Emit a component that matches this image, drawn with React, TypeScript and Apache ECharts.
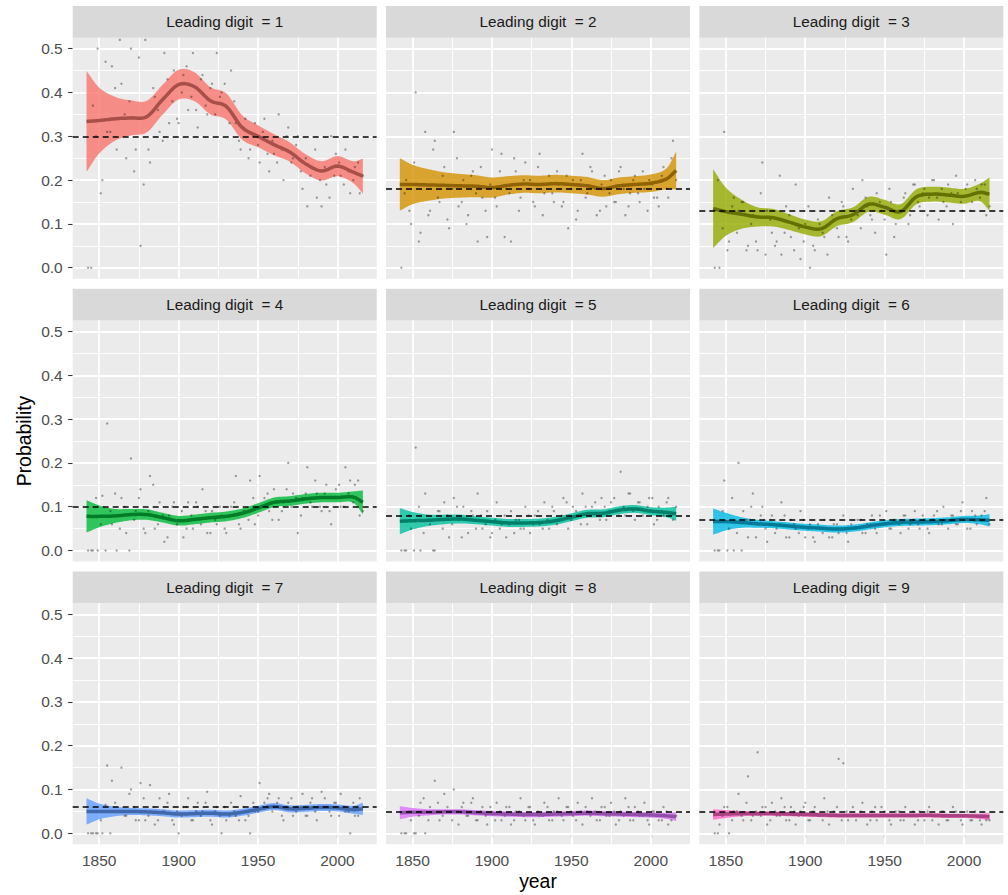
import React, { useEffect, useRef } from "react";
import * as echarts from "echarts";

const digits = [1, 2, 3, 4, 5, 6, 7, 8, 9];
const colors = ["#F8766D", "#D39200", "#93AA00", "#00BA38", "#00C19F", "#00B9E3", "#619CFF", "#DB72FB", "#FF61C3"];
const lineColors = ["#A84F49", "#8E6300", "#627100", "#007D26", "#008069", "#007A96", "#4068AA", "#9150A8", "#AA4183"];
const benford = [0.301, 0.176, 0.125, 0.097, 0.079, 0.067, 0.058, 0.051, 0.046];

const yTicks = [0, 0.1, 0.2, 0.3, 0.4, 0.5];
const yMinor = [0.05, 0.15, 0.25, 0.35, 0.45];
const xTicks = [1850, 1900, 1950, 2000];
const xMinor = [1875, 1925, 1975];

const fitYears = [1842, 1850, 1860, 1870, 1880, 1890, 1900, 1910, 1920, 1930, 1940, 1950, 1960, 1970, 1980, 1990, 2000, 2010, 2016];

const fit1 = [0.334, 0.336, 0.340, 0.342, 0.345, 0.384, 0.418, 0.413, 0.381, 0.368, 0.320, 0.300, 0.281, 0.264, 0.237, 0.221, 0.232, 0.218, 0.209];
const se1 = [0.115, 0.075, 0.05, 0.04, 0.036, 0.034, 0.034, 0.033, 0.031, 0.03, 0.028, 0.025, 0.024, 0.022, 0.022, 0.022, 0.023, 0.025, 0.04];
const fit2 = [0.19, 0.19, 0.189, 0.188, 0.187, 0.186, 0.183, 0.188, 0.191, 0.19, 0.192, 0.19, 0.187, 0.181, 0.187, 0.19, 0.193, 0.203, 0.222];
const se2 = [0.06, 0.045, 0.036, 0.03, 0.027, 0.025, 0.023, 0.021, 0.02, 0.02, 0.02, 0.02, 0.02, 0.019, 0.019, 0.019, 0.02, 0.024, 0.043];
const fit3 = [0.135, 0.128, 0.122, 0.116, 0.114, 0.104, 0.093, 0.089, 0.112, 0.121, 0.145, 0.138, 0.128, 0.162, 0.168, 0.166, 0.163, 0.172, 0.168];
const se3 = [0.09, 0.055, 0.033, 0.022, 0.02, 0.018, 0.017, 0.017, 0.017, 0.017, 0.017, 0.017, 0.017, 0.017, 0.017, 0.017, 0.017, 0.02, 0.038];
const fit4 = [0.078, 0.078, 0.079, 0.082, 0.082, 0.075, 0.068, 0.071, 0.075, 0.078, 0.085, 0.097, 0.11, 0.113, 0.118, 0.121, 0.121, 0.122, 0.11];
const se4 = [0.037, 0.025, 0.016, 0.013, 0.012, 0.011, 0.011, 0.011, 0.011, 0.011, 0.011, 0.011, 0.011, 0.011, 0.011, 0.011, 0.011, 0.013, 0.027];
const fit5 = [0.067, 0.068, 0.069, 0.071, 0.072, 0.069, 0.066, 0.063, 0.063, 0.064, 0.068, 0.076, 0.084, 0.085, 0.092, 0.095, 0.09, 0.087, 0.084];
const se5 = [0.03, 0.02, 0.013, 0.011, 0.01, 0.009, 0.009, 0.009, 0.009, 0.009, 0.009, 0.009, 0.009, 0.009, 0.009, 0.009, 0.009, 0.011, 0.016];
const fit6 = [0.066, 0.066, 0.064, 0.061, 0.059, 0.056, 0.053, 0.051, 0.049, 0.051, 0.056, 0.061, 0.064, 0.065, 0.066, 0.068, 0.071, 0.07, 0.069];
const se6 = [0.03, 0.02, 0.012, 0.009, 0.008, 0.008, 0.008, 0.008, 0.008, 0.008, 0.008, 0.008, 0.008, 0.008, 0.008, 0.008, 0.008, 0.01, 0.014];
const fit7 = [0.05, 0.05, 0.05, 0.05, 0.049, 0.047, 0.044, 0.045, 0.046, 0.044, 0.048, 0.055, 0.061, 0.056, 0.057, 0.059, 0.058, 0.054, 0.056];
const se7 = [0.03, 0.018, 0.011, 0.008, 0.008, 0.008, 0.008, 0.008, 0.008, 0.008, 0.008, 0.008, 0.008, 0.008, 0.008, 0.008, 0.008, 0.009, 0.014];
const fit8 = [0.047, 0.048, 0.048, 0.049, 0.049, 0.047, 0.045, 0.044, 0.043, 0.043, 0.044, 0.045, 0.046, 0.045, 0.044, 0.043, 0.042, 0.04, 0.038];
const se8 = [0.015, 0.01, 0.007, 0.006, 0.006, 0.006, 0.006, 0.006, 0.006, 0.006, 0.006, 0.006, 0.006, 0.006, 0.006, 0.006, 0.006, 0.007, 0.01];
const fit9 = [0.043, 0.044, 0.045, 0.045, 0.045, 0.044, 0.043, 0.042, 0.041, 0.041, 0.041, 0.041, 0.041, 0.041, 0.041, 0.04, 0.04, 0.039, 0.038];
const se9 = [0.012, 0.009, 0.006, 0.005, 0.005, 0.005, 0.005, 0.005, 0.005, 0.005, 0.005, 0.005, 0.005, 0.005, 0.005, 0.005, 0.005, 0.006, 0.008];

const pointYearsA = [1843, 1846, 1849, 1852, 1855, 1858, 1861, 1864, 1867, 1870, 1873, 1876, 1879, 1882, 1885, 1888, 1891, 1894, 1897, 1900, 1903, 1906, 1909, 1912, 1915, 1918, 1921, 1924, 1927, 1930, 1933, 1936, 1939, 1942, 1945, 1948, 1951, 1954, 1957, 1960, 1963, 1966, 1969, 1972, 1975, 1978, 1981, 1984, 1987, 1990, 1993, 1996, 1999, 2002, 2005, 2008, 2011, 2014];
const pointYearsB = [1845, 1848, 1851, 1854, 1857, 1860, 1863, 1866, 1869, 1872, 1875, 1878, 1881, 1884, 1887, 1890, 1893, 1896, 1899, 1902, 1905, 1908, 1911, 1914, 1917, 1920, 1923, 1926, 1929, 1932, 1935, 1938, 1941, 1944, 1947, 1950, 1953, 1956, 1959, 1962, 1965, 1968, 1971, 1974, 1977, 1980, 1983, 1986, 1989, 1992, 1995, 1998, 2001, 2004, 2007, 2010, 2013, 2016];

const pts1a = [0.0, 0.37, 0.50, 0.20, 0.31, 0.46, 0.27, 0.42, 0.25, 0.50, 0.27, 0.05, 0.52, 0.24, 0.39, 0.31, 0.49, 0.33, 0.45, 0.33, 0.44, 0.36, 0.49, 0.32, 0.44, 0.35, 0.42, 0.49, 0.40, 0.37, 0.45, 0.33, 0.27, 0.34, 0.27, 0.33, 0.24, 0.34, 0.22, 0.26, 0.35, 0.20, 0.32, 0.25, 0.30, 0.18, 0.14, 0.23, 0.16, 0.14, 0.19, 0.30, 0.26, 0.21, 0.27, 0.17, 0.23, 0.17];
const pts1b = [0.0, 0.30, 0.17, 0.47, 0.31, 0.41, 0.52, 0.35, 0.38, 0.22, 0.48, 0.19, 0.27, 0.41, 0.36, 0.29, 0.43, 0.38, 0.34, 0.40, 0.46, 0.39, 0.36, 0.43, 0.37, 0.41, 0.35, 0.39, 0.42, 0.33, 0.38, 0.29, 0.32, 0.25, 0.30, 0.28, 0.31, 0.26, 0.29, 0.24, 0.27, 0.30, 0.24, 0.28, 0.22, 0.25, 0.21, 0.27, 0.20, 0.23, 0.16, 0.21, 0.24, 0.19, 0.22, 0.20, 0.24, 0.21];
const pts2a = [0.0, 0.20, 0.10, 0.40, 0.08, 0.31, 0.13, 0.29, 0.15, 0.23, 0.09, 0.31, 0.14, 0.20, 0.12, 0.22, 0.06, 0.16, 0.07, 0.27, 0.14, 0.26, 0.18, 0.06, 0.22, 0.16, 0.24, 0.20, 0.14, 0.26, 0.17, 0.21, 0.15, 0.19, 0.15, 0.09, 0.20, 0.13, 0.26, 0.17, 0.22, 0.12, 0.19, 0.14, 0.20, 0.15, 0.23, 0.12, 0.17, 0.21, 0.15, 0.18, 0.20, 0.16, 0.14, 0.23, 0.16, 0.29];
const pts2b = [0.17, 0.13, 0.24, 0.06, 0.19, 0.12, 0.27, 0.16, 0.21, 0.11, 0.18, 0.25, 0.15, 0.10, 0.21, 0.17, 0.23, 0.13, 0.19, 0.16, 0.22, 0.07, 0.17, 0.25, 0.13, 0.20, 0.18, 0.15, 0.23, 0.12, 0.19, 0.17, 0.22, 0.14, 0.21, 0.18, 0.11, 0.20, 0.16, 0.23, 0.18, 0.13, 0.21, 0.17, 0.15, 0.22, 0.18, 0.14, 0.20, 0.17, 0.22, 0.13, 0.19, 0.16, 0.21, 0.18, 0.25, 0.20];
const pts3a = [0.0, 0.0, 0.31, 0.06, 0.16, 0.13, 0.15, 0.05, 0.12, 0.04, 0.24, 0.13, 0.08, 0.06, 0.03, 0.14, 0.07, 0.19, 0.02, 0.10, 0.0, 0.04, 0.10, 0.07, 0.16, 0.11, 0.07, 0.14, 0.06, 0.18, 0.12, 0.20, 0.14, 0.11, 0.17, 0.13, 0.03, 0.15, 0.10, 0.13, 0.17, 0.12, 0.19, 0.14, 0.18, 0.16, 0.20, 0.11, 0.15, 0.19, 0.10, 0.17, 0.13, 0.19, 0.15, 0.18, 0.19, 0.12];
const pts3b = [0.20, 0.09, 0.04, 0.14, 0.08, 0.15, 0.04, 0.10, 0.06, 0.17, 0.03, 0.11, 0.05, 0.21, 0.08, 0.12, 0.04, 0.09, 0.06, 0.14, 0.05, 0.11, 0.08, 0.03, 0.12, 0.09, 0.15, 0.07, 0.11, 0.13, 0.09, 0.16, 0.12, 0.08, 0.15, 0.11, 0.18, 0.07, 0.13, 0.16, 0.10, 0.19, 0.15, 0.17, 0.12, 0.20, 0.16, 0.18, 0.14, 0.17, 0.21, 0.15, 0.18, 0.13, 0.20, 0.16, 0.19, 0.14];
const pts4a = [0.0, 0.0, 0.0, 0.125, 0.29, 0.06, 0.0, 0.12, 0.04, 0.21, 0.09, 0.14, 0.04, 0.17, 0.05, 0.11, 0.02, 0.08, 0.11, 0.07, 0.03, 0.11, 0.05, 0.10, 0.14, 0.04, 0.09, 0.06, 0.08, 0.04, 0.10, 0.17, 0.05, 0.09, 0.16, 0.06, 0.17, 0.12, 0.09, 0.14, 0.07, 0.11, 0.20, 0.13, 0.04, 0.12, 0.19, 0.10, 0.13, 0.09, 0.15, 0.06, 0.14, 0.10, 0.19, 0.16, 0.15, 0.08];
const pts4b = [0.0, 0.12, 0.06, 0.0, 0.09, 0.13, 0.05, 0.10, 0.0, 0.07, 0.12, 0.05, 0.09, 0.15, 0.06, 0.08, 0.03, 0.10, 0.06, 0.09, 0.05, 0.08, 0.11, 0.06, 0.09, 0.04, 0.07, 0.10, 0.05, 0.08, 0.11, 0.06, 0.09, 0.07, 0.12, 0.08, 0.10, 0.13, 0.07, 0.11, 0.09, 0.14, 0.10, 0.12, 0.08, 0.13, 0.11, 0.16, 0.10, 0.13, 0.09, 0.12, 0.15, 0.10, 0.13, 0.11, 0.16, 0.09];
const pts5a = [0.0, 0.0, 0.05, 0.235, 0.0, 0.13, 0.06, 0.0, 0.09, 0.11, 0.03, 0.12, 0.07, 0.10, 0.04, 0.08, 0.13, 0.05, 0.09, 0.04, 0.11, 0.06, 0.03, 0.09, 0.07, 0.05, 0.10, 0.04, 0.08, 0.06, 0.11, 0.05, 0.09, 0.07, 0.12, 0.05, 0.10, 0.08, 0.13, 0.06, 0.10, 0.08, 0.12, 0.07, 0.11, 0.09, 0.18, 0.08, 0.13, 0.07, 0.11, 0.09, 0.12, 0.06, 0.10, 0.08, 0.12, 0.07];
const pts5b = [0.0, 0.08, 0.0, 0.10, 0.04, 0.07, 0.0, 0.09, 0.05, 0.08, 0.06, 0.10, 0.03, 0.07, 0.09, 0.05, 0.08, 0.06, 0.03, 0.07, 0.05, 0.08, 0.06, 0.04, 0.07, 0.05, 0.08, 0.06, 0.09, 0.05, 0.07, 0.10, 0.06, 0.08, 0.11, 0.07, 0.09, 0.06, 0.10, 0.08, 0.11, 0.07, 0.10, 0.09, 0.12, 0.08, 0.10, 0.13, 0.09, 0.11, 0.08, 0.10, 0.12, 0.07, 0.09, 0.11, 0.08, 0.10];
const pts6a = [0.0, 0.0, 0.16, 0.05, 0.0, 0.20, 0.09, 0.03, 0.13, 0.06, 0.10, 0.02, 0.08, 0.05, 0.11, 0.03, 0.07, 0.05, 0.09, 0.03, 0.06, 0.02, 0.05, 0.07, 0.03, 0.06, 0.04, 0.08, 0.02, 0.05, 0.07, 0.04, 0.06, 0.08, 0.04, 0.06, 0.09, 0.05, 0.07, 0.04, 0.08, 0.06, 0.09, 0.05, 0.07, 0.04, 0.08, 0.06, 0.10, 0.05, 0.08, 0.06, 0.11, 0.05, 0.09, 0.06, 0.08, 0.12];
const pts6b = [0.0, 0.09, 0.0, 0.12, 0.04, 0.0, 0.07, 0.10, 0.03, 0.08, 0.05, 0.07, 0.04, 0.06, 0.08, 0.03, 0.06, 0.04, 0.07, 0.05, 0.03, 0.06, 0.04, 0.05, 0.03, 0.06, 0.05, 0.04, 0.06, 0.05, 0.07, 0.04, 0.06, 0.05, 0.08, 0.06, 0.05, 0.07, 0.06, 0.08, 0.05, 0.07, 0.06, 0.08, 0.05, 0.07, 0.09, 0.06, 0.07, 0.08, 0.06, 0.09, 0.07, 0.05, 0.08, 0.07, 0.09, 0.06];
const pts7a = [0.0, 0.0, 0.0, 0.0, 0.155, 0.12, 0.05, 0.15, 0.04, 0.10, 0.03, 0.115, 0.03, 0.11, 0.02, 0.08, 0.05, 0.09, 0.02, 0.0, 0.06, 0.08, 0.03, 0.07, 0.05, 0.095, 0.02, 0.06, 0.0, 0.03, 0.07, 0.04, 0.085, 0.03, 0.0, 0.05, 0.115, 0.07, 0.09, 0.06, 0.08, 0.03, 0.07, 0.04, 0.06, 0.09, 0.04, 0.08, 0.03, 0.095, 0.06, 0.04, 0.07, 0.09, 0.05, 0.0, 0.04, 0.08];
const pts7b = [0.0, 0.0, 0.03, 0.065, 0.0, 0.07, 0.05, 0.04, 0.09, 0.06, 0.03, 0.08, 0.04, 0.06, 0.03, 0.05, 0.07, 0.03, 0.05, 0.04, 0.06, 0.03, 0.05, 0.04, 0.07, 0.03, 0.05, 0.04, 0.06, 0.04, 0.05, 0.03, 0.06, 0.04, 0.07, 0.05, 0.06, 0.08, 0.05, 0.07, 0.04, 0.06, 0.08, 0.05, 0.06, 0.04, 0.07, 0.05, 0.06, 0.08, 0.05, 0.07, 0.04, 0.06, 0.05, 0.07, 0.04, 0.06];
const pts8a = [0.0, 0.0, 0.03, 0.0, 0.07, 0.0, 0.06, 0.12, 0.03, 0.09, 0.05, 0.10, 0.02, 0.07, 0.04, 0.08, 0.03, 0.06, 0.02, 0.05, 0.07, 0.03, 0.06, 0.02, 0.05, 0.08, 0.03, 0.06, 0.02, 0.04, 0.07, 0.03, 0.05, 0.08, 0.03, 0.06, 0.04, 0.07, 0.02, 0.05, 0.08, 0.03, 0.06, 0.04, 0.07, 0.02, 0.05, 0.08, 0.03, 0.06, 0.04, 0.07, 0.02, 0.05, 0.03, 0.06, 0.02, 0.04];
const pts8b = [0.0, 0.05, 0.0, 0.04, 0.08, 0.03, 0.05, 0.07, 0.04, 0.06, 0.03, 0.05, 0.06, 0.04, 0.07, 0.03, 0.05, 0.04, 0.06, 0.03, 0.05, 0.04, 0.06, 0.03, 0.05, 0.04, 0.06, 0.03, 0.05, 0.04, 0.06, 0.03, 0.05, 0.04, 0.06, 0.05, 0.03, 0.05, 0.06, 0.04, 0.05, 0.03, 0.06, 0.04, 0.05, 0.03, 0.04, 0.06, 0.03, 0.05, 0.04, 0.03, 0.05, 0.04, 0.03, 0.05, 0.03, 0.04];
const pts9a = [0.0, 0.02, 0.06, 0.0, 0.05, 0.09, 0.03, 0.13, 0.04, 0.185, 0.06, 0.02, 0.07, 0.04, 0.08, 0.03, 0.06, 0.02, 0.05, 0.07, 0.03, 0.06, 0.04, 0.08, 0.02, 0.05, 0.17, 0.16, 0.03, 0.06, 0.04, 0.07, 0.02, 0.05, 0.03, 0.06, 0.04, 0.02, 0.05, 0.03, 0.06, 0.04, 0.02, 0.05, 0.03, 0.06, 0.04, 0.02, 0.05, 0.03, 0.06, 0.04, 0.02, 0.05, 0.03, 0.04, 0.02, 0.03];
const pts9b = [0.0, 0.04, 0.06, 0.03, 0.05, 0.04, 0.07, 0.03, 0.05, 0.04, 0.06, 0.03, 0.05, 0.04, 0.06, 0.03, 0.05, 0.04, 0.06, 0.03, 0.05, 0.04, 0.03, 0.05, 0.04, 0.06, 0.03, 0.05, 0.04, 0.03, 0.05, 0.04, 0.03, 0.06, 0.04, 0.05, 0.03, 0.04, 0.05, 0.03, 0.04, 0.05, 0.03, 0.04, 0.05, 0.03, 0.04, 0.05, 0.03, 0.04, 0.05, 0.03, 0.04, 0.03, 0.05, 0.03, 0.04, 0.03];

const fits = [fit1, fit2, fit3, fit4, fit5, fit6, fit7, fit8, fit9];
const ses = [se1, se2, se3, se4, se5, se6, se7, se8, se9];
const ptsA = [pts1a, pts2a, pts3a, pts4a, pts5a, pts6a, pts7a, pts8a, pts9a];
const ptsB = [pts1b, pts2b, pts3b, pts4b, pts5b, pts6b, pts7b, pts8b, pts9b];

const FONT = "'Liberation Sans', Arial, sans-serif";

// cubic Hermite curve through the given points (rendering only), in data space
function curve(xs: number[], ys: number[], steps: number): number[][] {
  const n = xs.length;
  const m = xs.map((_, k) =>
    k === 0 ? (ys[1] - ys[0]) / (xs[1] - xs[0])
      : k === n - 1 ? (ys[n - 1] - ys[n - 2]) / (xs[n - 1] - xs[n - 2])
        : (ys[k + 1] - ys[k - 1]) / (xs[k + 1] - xs[k - 1])
  );
  const out: number[][] = [];
  for (let k = 0; k < n - 1; k++) {
    const h = xs[k + 1] - xs[k];
    for (let s = 0; s < steps; s++) {
      const t = s / steps;
      const t2 = t * t, t3 = t2 * t;
      const y = (2 * t3 - 3 * t2 + 1) * ys[k] + (t3 - 2 * t2 + t) * h * m[k] + (-2 * t3 + 3 * t2) * ys[k + 1] + (t3 - t2) * h * m[k + 1];
      out.push([xs[k] + t * h, y]);
    }
  }
  out.push([xs[n - 1], ys[n - 1]]);
  return out;
}

export default function App() {
  const ref = useRef<HTMLDivElement>(null);
  useEffect(() => {
    if (!ref.current) return;
    const chart = echarts.init(ref.current, null, { renderer: "svg" });
    const colL = [72.7, 386, 699.3];
    const rowT = [37.7, 320.5, 603.3];
    const PW = 304;
    const PH = 241;
    const SH = 31.7;

    const grids: any[] = [];
    const xAxes: any[] = [];
    const yAxes: any[] = [];
    const series: any[] = [];
    const graphics: any[] = [];

    digits.forEach((d, i) => {
      const r = Math.floor(i / 3);
      const c = i % 3;
      const left = colL[c];
      const top = rowT[r];
      grids.push({
        left, top, width: PW, height: PH, show: true, backgroundColor: "#EBEBEB",
        borderWidth: 0, containLabel: false, outerBoundsMode: "none",
      });
      xAxes.push({
        gridIndex: i, type: "value", min: 1833.3, max: 2024.7,
        splitLine: { show: false }, axisLine: { show: false },
        axisTick: { show: r === 2, customValues: xTicks, length: 4.5, lineStyle: { color: "#333333", width: 1.1 } },
        axisLabel: { show: r === 2, customValues: xTicks, color: "#4D4D4D", fontSize: 15.5, margin: 8, fontFamily: FONT, formatter: (v: number) => String(v) },
      });
      yAxes.push({
        gridIndex: i, type: "value", min: -0.025, max: 0.525,
        splitLine: { show: false }, axisLine: { show: false },
        axisTick: { show: c === 0, customValues: yTicks, length: 4.5, lineStyle: { color: "#333333", width: 1.1 } },
        axisLabel: { show: c === 0, customValues: yTicks, color: "#4D4D4D", fontSize: 15.5, margin: 10, fontFamily: FONT, formatter: (v: number) => v.toFixed(1) },
      });

      const gl = (v: number, key: string, w: number) => ({ [key]: v, lineStyle: { color: "#FFFFFF", width: w, type: "solid" } });
      series.push({
        type: "line", xAxisIndex: i, yAxisIndex: i, data: [], z: 1, silent: true,
        markLine: {
          z: 1, zlevel: 0,
          silent: true, symbol: ["none", "none"], label: { show: false }, animation: false,
          emphasis: { disabled: true },
          data: [
            ...yMinor.map((v) => gl(v, "yAxis", 0.9)),
            ...xMinor.map((v) => gl(v, "xAxis", 0.9)),
            ...yTicks.map((v) => gl(v, "yAxis", 1.8)),
            ...xTicks.map((v) => gl(v, "xAxis", 1.8)),
          ],
        },
      });

      const fit = fits[i];
      const se = ses[i];
      const ribbonData = fitYears.map((y, j) => [y, fit[j] - se[j], fit[j] + se[j], fit[j]]);
      const n = ribbonData.length;
      series.push({
        type: "custom", xAxisIndex: i, yAxisIndex: i, z: 3, silent: true,
        data: ribbonData,
        encode: { x: 0, y: [1, 2] },
        renderItem: (params: any, api: any) => {
          if (params.dataIndex !== 0) return null;
          const xs: number[] = [], lo: number[] = [], hi: number[] = [];
          for (let k = 0; k < n; k++) {
            xs.push(api.value(0, k)); lo.push(api.value(1, k)); hi.push(api.value(2, k));
          }
          const up = curve(xs, hi, 10).map((p) => api.coord(p));
          const dn = curve(xs, lo, 10).map((p) => api.coord(p)).reverse();
          return {
            type: "polygon",
            shape: { points: up.concat(dn) },
            style: { fill: colors[i], opacity: 0.8, stroke: "none" },
          };
        },
      });
      series.push({
        type: "scatter", xAxisIndex: i, yAxisIndex: i, z: 4, silent: true,
        data: pointYearsA.map((y, j) => [y, ptsA[i][j]]).concat(pointYearsB.map((y, j) => [y, ptsB[i][j]])),
        symbolSize: 2.4, itemStyle: { color: "rgba(25,25,25,0.5)" },
      });
      series.push({
        type: "custom", xAxisIndex: i, yAxisIndex: i, z: 5, silent: true,
        data: ribbonData,
        encode: { x: 0, y: 3 },
        renderItem: (params: any, api: any) => {
          if (params.dataIndex !== 0) return null;
          const xs: number[] = [], ys: number[] = [];
          for (let k = 0; k < n; k++) { xs.push(api.value(0, k)); ys.push(api.value(3, k)); }
          const line = curve(xs, ys, 10).map((p) => api.coord(p));
          return {
            type: "polyline",
            shape: { points: line },
            style: { stroke: lineColors[i], lineWidth: 3.5, fill: "none", lineJoin: "round", lineCap: "butt" },
          };
        },
      });
      series.push({
        type: "line", xAxisIndex: i, yAxisIndex: i, data: [], z: 10, silent: true,
        markLine: {
          z: 10,
          silent: true, symbol: ["none", "none"], label: { show: false }, animation: false,
          data: [{ yAxis: benford[i] }],
          lineStyle: { color: "#000000", width: 1.5, type: [6, 4] },
        },
      });

      graphics.push({
        type: "rect", left, top: top - SH, shape: { width: PW, height: SH },
        style: { fill: "#D9D9D9" }, silent: true,
      });
      graphics.push({
        type: "text", x: left + PW / 2, y: top - SH / 2,
        style: { text: "Leading digit  = " + d, fill: "#1A1A1A", font: `15.3px ${FONT}`, textAlign: "center", textVerticalAlign: "middle" },
        silent: true,
      });
    });

    graphics.push({
      type: "text", x: 538, y: 881,
      style: { text: "year", fill: "#000000", font: `19.4px ${FONT}`, textAlign: "center", textVerticalAlign: "middle" },
      silent: true,
    });
    graphics.push({
      type: "text", x: 24, y: 441, rotation: Math.PI / 2,
      style: { text: "Probability", fill: "#000000", font: `19.4px ${FONT}`, textAlign: "center", textVerticalAlign: "middle" },
      silent: true,
    });

    chart.setOption({
      animation: false,
      backgroundColor: "#FFFFFF",
      grid: grids,
      xAxis: xAxes,
      yAxis: yAxes,
      series,
      graphic: graphics,
    });
    return () => chart.dispose();
  }, []);
  return <div ref={ref} style={{ position: "absolute", left: 0, top: 0, width: 1008, height: 895 }} />;
}
